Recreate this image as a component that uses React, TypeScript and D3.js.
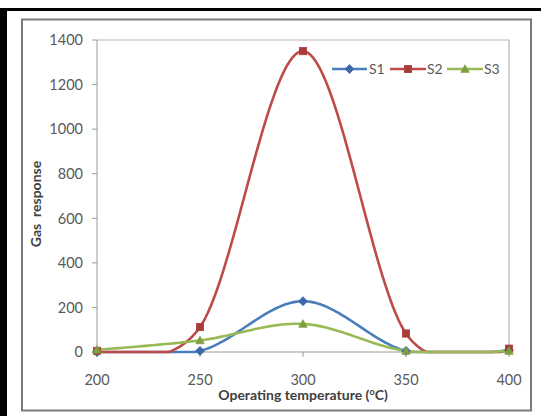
import React from "react";
import * as d3 from "d3";

const temperatures = [200, 250, 300, 350, 400];
const s1Values = [0, 5, 228, 5, 8];
const s2Values = [5, 112, 1350, 83, 15];
const s3Values = [10, 52, 126, 5, 5];
const yTicks = [0, 200, 400, 600, 800, 1000, 1200, 1400];
const seriesNames = ["S1", "S2", "S3"];

const W = 541;
const H = 416;
const plot = { left: 97, right: 509, top: 40, bottom: 352 };
const font = "Lato, 'Open Sans', sans-serif";

const colors = ["#4A7EBB", "#BE4B48", "#98B954"];
const markerFill = ["#3C68A8", "#A83C3A", "#7E9F3F"];

// Collects the smoothed curve that d3 emits and flattens it into points,
// clamping anything that falls outside the value axis onto its edge.
function smoothClampedPath(pts: [number, number][], yMin: number, yMax: number): string {
  const out: [number, number][] = [];
  let cx = 0;
  let cy = 0;
  const ctx: any = {
    moveTo(x: number, y: number) {
      cx = x;
      cy = y;
      out.push([x, y]);
    },
    lineTo(x: number, y: number) {
      cx = x;
      cy = y;
      out.push([x, y]);
    },
    bezierCurveTo(x1: number, y1: number, x2: number, y2: number, x: number, y: number) {
      const n = 40;
      for (let k = 1; k <= n; k++) {
        const t = k / n;
        const mt = 1 - t;
        const px = mt * mt * mt * cx + 3 * mt * mt * t * x1 + 3 * mt * t * t * x2 + t * t * t * x;
        const py = mt * mt * mt * cy + 3 * mt * mt * t * y1 + 3 * mt * t * t * y2 + t * t * t * y;
        out.push([px, py]);
      }
      cx = x;
      cy = y;
    },
    closePath() {},
  };
  d3.line().curve(d3.curveCardinal.tension(0)).context(ctx)(pts);
  return out
    .map(([px, py], i) => `${i ? "L" : "M"}${px.toFixed(2)},${Math.min(yMax, Math.max(yMin, py)).toFixed(2)}`)
    .join("");
}

function Marker({ kind, x, y, i }: { kind: number; x: number; y: number; i: number }) {
  const c = markerFill[i];
  if (kind === 0) {
    const s = 4.5;
    return <path d={`M${x},${y - s}L${x + s},${y}L${x},${y + s}L${x - s},${y}Z`} fill={c} stroke={c} strokeWidth={0.8} />;
  }
  if (kind === 1) {
    const s = 3.6;
    return <rect x={x - s} y={y - s} width={2 * s} height={2 * s} fill={c} stroke={c} strokeWidth={0.8} />;
  }
  const s = 4.2;
  return <path d={`M${x},${y - s}L${x + s},${y + s * 0.8}L${x - s},${y + s * 0.8}Z`} fill={c} stroke={c} strokeWidth={0.8} />;
}

export default function App() {
  const x = d3.scaleLinear().domain([200, 400]).range([plot.left, plot.right]);
  const y = d3.scaleLinear().domain([0, 1400]).range([plot.bottom, plot.top]);
  const series = [s1Values, s2Values, s3Values];

  const legendY = 69;
  const legendEntries = [
    { x0: 332, x1: 367, tx: 369 },
    { x0: 390, x1: 426, tx: 427 },
    { x0: 447, x1: 483, tx: 484 },
  ];

  return (
    <svg
      width={W}
      height={H}
      viewBox={`0 0 ${W} ${H}`}
      style={{ position: "absolute", left: 0, top: 0, background: "#fff" }}
    >
      {/* outer black frame */}
      <rect x={-4} y={9.5} width={W + 20} height={H + 20} fill="none" stroke="#000" strokeWidth={3} />
      <rect x={0} y={8} width={7} height={H} fill="#000" />
      {/* chart area frame */}
      <rect x={22} y={19.5} width={509} height={391} fill="#fff" stroke="#7a7a7a" strokeWidth={2} />

      {/* plot area border */}
      <path d={`M${plot.left},${plot.top}H${plot.right}V${plot.bottom}`} fill="none" stroke="#b5b5b5" strokeWidth={1.2} />

      {/* y axis */}
      <line x1={plot.left} x2={plot.left} y1={plot.top} y2={plot.bottom} stroke="#9a9a9a" strokeWidth={1} />
      {yTicks.map((t) => (
        <g key={t}>
          <line x1={plot.left - 5} x2={plot.left} y1={y(t)} y2={y(t)} stroke="#9a9a9a" />
          <text x={83} y={y(t)} dy="0.36em" textAnchor="end" fontFamily={font} fontSize={14.5} fill="#595959">
            {t}
          </text>
        </g>
      ))}

      {/* x axis */}
      <line x1={plot.left} x2={plot.right} y1={plot.bottom} y2={plot.bottom} stroke="#9a9a9a" strokeWidth={1} />
      {temperatures.map((t) => (
        <g key={t}>
          <line x1={x(t)} x2={x(t)} y1={plot.bottom} y2={plot.bottom + 5} stroke="#9a9a9a" />
          <text x={x(t)} y={379.5} dy="0.36em" textAnchor="middle" fontFamily={font} fontSize={14.5} fill="#595959">
            {t}
          </text>
        </g>
      ))}

      {/* series */}
      {series.map((vals, i) => (
        <path
          key={i}
          d={smoothClampedPath(
            vals.map((v, j) => [x(temperatures[j]), y(v)] as [number, number]),
            plot.top,
            plot.bottom
          )}
          fill="none"
          stroke={colors[i]}
          strokeWidth={2.6}
          strokeLinejoin="round"
        />
      ))}
      {series.map((vals, i) => (
        <g key={i}>
          {vals.map((v, j) => (
            <Marker key={j} kind={i} i={i} x={x(temperatures[j])} y={y(v)} />
          ))}
        </g>
      ))}

      {/* legend */}
      {legendEntries.map((e, i) => (
        <g key={i}>
          <line x1={e.x0} x2={e.x1} y1={legendY} y2={legendY} stroke={colors[i]} strokeWidth={2.6} />
          <Marker kind={i} i={i} x={(e.x0 + e.x1) / 2} y={legendY} />
          <text x={e.tx} y={legendY} dy="0.36em" fontFamily={font} fontSize={14} fill="#595959">
            {seriesNames[i]}
          </text>
        </g>
      ))}

      {/* axis titles */}
      <text x={303} y={400} textAnchor="middle" fontFamily={font} fontSize={14} fontWeight="bold" fill="#404040">
        Operating temperature (
        <tspan fontSize={9} dy={-5}>o</tspan>
        <tspan dy={5}>C)</tspan>
      </text>
      <text
        transform={`translate(41,204) rotate(-90)`}
        textAnchor="middle"
        fontFamily={font}
        fontSize={14}
        fontWeight="bold"
        fill="#404040"
        xmlSpace="preserve"
      >
        Gas  response
      </text>
    </svg>
  );
}
